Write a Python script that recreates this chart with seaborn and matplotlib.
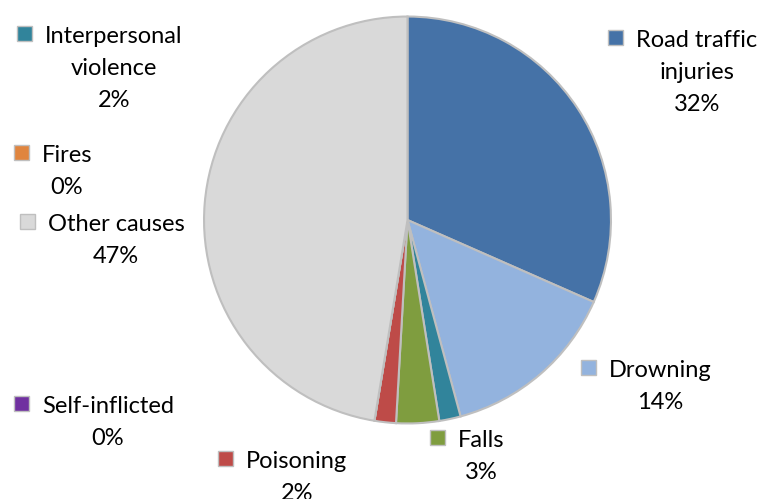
import numpy as np
import pandas as pd
import seaborn as sns
import matplotlib.pyplot as plt
from matplotlib.patches import Rectangle

# ------------------------------- data ------------------------------- #
causes = ["Road traffic injuries", "Drowning", "Interpersonal violence", "Falls",
          "Poisoning", "Self-inflicted", "Fires", "Other causes"]
shares = [31.6, 14.2, 1.7, 3.4, 1.7, 0.0, 0.0, 47.4]
label_lines = [["Road traffic", "injuries"], ["Drowning"], ["Interpersonal", "violence"],
               ["Falls"], ["Poisoning"], ["Self-inflicted"], ["Fires"], ["Other causes"]]

# ------------------------------ setting ----------------------------- #
colors = ["#4572A7", "#93B3DE", "#31849B", "#7F9D3F",
          "#BE4B48", "#7030A0", "#E0853F", "#D9D9D9"]
edge_color = "#BFBFBF"

sns.set_theme(style="white")
plt.rcParams['font.family'] = ['Lato', 'DejaVu Sans']
font_size = 17
line_gap = 32  # px between baselines

W, H = 763, 499
# label anchor: centre x of text, baseline of first line (px from top-left)
label_pos = [(697, 47), (660, 377), (114, 43), (481, 447),
             (297, 468), (108, 413), (67, 162), (116, 231)]

# pie centre / radius in px
cx, cy, r = 407.5, 220, 205.5

df = pd.DataFrame({"cause": causes, "share": shares})

fig = plt.figure(figsize=(W / 100, H / 100), dpi=100)
fig.patch.set_facecolor("white")
ax = fig.add_axes([(cx - r) / W, 1 - (cy + r) / H, 2 * r / W, 2 * r / H])

ax.pie(df["share"], colors=sns.color_palette(colors), startangle=90, counterclock=False,
       radius=1, wedgeprops=dict(edgecolor=edge_color, linewidth=1.5))
ax.set_xlim(-1.01, 1.01)
ax.set_ylim(-1.01, 1.01)
ax.set_axis_off()

def fy(y):
    return 1 - y / H

first_lines = []
for lines, share, (x, y) in zip(label_lines, df["share"], label_pos):
    texts = lines + [f"{round(share):.0f}%"]
    for i, s in enumerate(texts):
        t = fig.text(x / W, fy(y + i * line_gap), s, ha="center", va="baseline",
                     fontsize=font_size, color="black")
        if i == 0:
            first_lines.append(t)

fig.canvas.draw()
renderer = fig.canvas.get_renderer()
key = 15
for t, c, (x, y) in zip(first_lines, colors, label_pos):
    bb = t.get_window_extent(renderer)
    left = bb.x0 - 13 - key
    bottom = (H - y) + 9.5 - key / 2
    fig.add_artist(Rectangle((left / W, bottom / H), key / W, key / H,
                             transform=fig.transFigure, facecolor=c,
                             edgecolor="#BFBFBF", linewidth=1.0))

plt.savefig("out.png", dpi=100)
